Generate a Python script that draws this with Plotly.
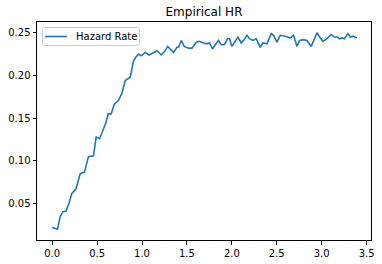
import plotly.graph_objects as go

# Time values
time = [0.0, 0.033, 0.059, 0.089, 0.119, 0.153, 0.189, 0.219, 0.264, 0.312,
        0.360, 0.404, 0.460, 0.490, 0.527, 0.562, 0.596, 0.624, 0.657, 0.690,
        0.738, 0.776, 0.813, 0.869, 0.905, 0.935, 0.961, 0.991, 1.036, 1.080,
        1.128, 1.166, 1.214, 1.251, 1.286, 1.314, 1.351, 1.389, 1.406, 1.437,
        1.470, 1.518, 1.556, 1.604, 1.640, 1.685, 1.723, 1.752, 1.785, 1.815,
        1.852, 1.882, 1.915, 1.952, 1.974, 2.001, 2.038, 2.068, 2.105, 2.138,
        2.168, 2.197, 2.235, 2.272, 2.316, 2.346, 2.391, 2.439, 2.464, 2.502,
        2.539, 2.595, 2.650, 2.687, 2.725, 2.754, 2.798, 2.836, 2.884, 2.910,
        2.948, 2.977, 3.014, 3.059, 3.104, 3.140, 3.177, 3.199, 3.226, 3.252,
        3.293, 3.318, 3.349, 3.393]

# Hazard rate values
hazard_rate = [0.022, 0.0205, 0.020, 0.035, 0.0405, 0.041, 0.051, 0.062, 0.067, 0.085,
               0.087, 0.105, 0.106, 0.128, 0.126, 0.135, 0.144, 0.155, 0.155, 0.166,
               0.171, 0.179, 0.194, 0.198, 0.217, 0.222, 0.225, 0.223, 0.227, 0.224,
               0.227, 0.229, 0.224, 0.228, 0.234, 0.231, 0.227, 0.233, 0.233, 0.241,
               0.234, 0.232, 0.232, 0.239, 0.240, 0.238, 0.237, 0.238, 0.231, 0.236,
               0.241, 0.236, 0.236, 0.243, 0.243, 0.234, 0.240, 0.245, 0.238, 0.242,
               0.247, 0.243, 0.241, 0.243, 0.233, 0.238, 0.237, 0.249, 0.247, 0.239,
               0.247, 0.246, 0.244, 0.247, 0.234, 0.241, 0.242, 0.241, 0.234, 0.240,
               0.250, 0.245, 0.240, 0.243, 0.248, 0.245, 0.245, 0.243, 0.244, 0.243,
               0.249, 0.245, 0.246, 0.244]

x_ticks = [0.0, 0.5, 1.0, 1.5, 2.0, 2.5, 3.0, 3.5]
y_ticks = [0.05, 0.10, 0.15, 0.20, 0.25]

series_name = "Hazard Rate"
line_color = "#1f77b4"
font = "DejaVu Sans, Liberation Sans, sans-serif"

fig = go.Figure()
fig.add_trace(go.Scatter(x=time, y=hazard_rate, mode="lines", name=series_name,
                         line=dict(color=line_color, width=1.6), showlegend=False))

axis_common = dict(showline=True, mirror=True, linecolor="black", linewidth=1,
                   ticks="outside", ticklen=3.5, tickwidth=1, tickcolor="black",
                   showgrid=False, zeroline=False, automargin=False,
                   tickfont=dict(family=font, size=10, color="black"))

W, H = 382, 264
ml, mr, mt, mb = 37, 11, 22, 24
pw, ph = W - ml - mr, H - mt - mb


def px_x(p):
    return (p - ml) / pw


def px_y(p):
    return (H - mb - p) / ph


# Matplotlib-style legend box (upper left, rounded frame)
x0, x1, y0, y1, r = 42.5, 139.5, 27.5, 45.5, 2.5
path = (f"M {px_x(x0 + r)} {px_y(y0)} L {px_x(x1 - r)} {px_y(y0)} "
        f"Q {px_x(x1)} {px_y(y0)} {px_x(x1)} {px_y(y0 + r)} "
        f"L {px_x(x1)} {px_y(y1 - r)} Q {px_x(x1)} {px_y(y1)} {px_x(x1 - r)} {px_y(y1)} "
        f"L {px_x(x0 + r)} {px_y(y1)} Q {px_x(x0)} {px_y(y1)} {px_x(x0)} {px_y(y1 - r)} "
        f"L {px_x(x0)} {px_y(y0 + r)} Q {px_x(x0)} {px_y(y0)} {px_x(x0 + r)} {px_y(y0)} Z")

fig.add_shape(type="path", path=path, xref="paper", yref="paper",
              line=dict(color="#cccccc", width=1), fillcolor="rgba(255,255,255,0.8)")
fig.add_shape(type="line", xref="paper", yref="paper",
              x0=px_x(45), x1=px_x(67), y0=px_y(36.5), y1=px_y(36.5),
              line=dict(color=line_color, width=1.6))
fig.add_annotation(text=series_name, xref="paper", yref="paper",
                   x=px_x(74), y=px_y(36.5), xanchor="left", yanchor="middle",
                   showarrow=False, font=dict(family=font, size=10, color="black"))

fig.update_layout(
    width=W, height=H,
    margin=dict(l=ml, r=mr, t=mt, b=mb, autoexpand=False),
    paper_bgcolor="white", plot_bgcolor="white",
    title=dict(text="Empirical HR", x=0.5, xref="paper", xanchor="center",
               y=1 - 11.5 / H, yanchor="middle",
               font=dict(family=font, size=12, color="black")),
    xaxis=dict(range=[-0.169, 3.549], tickvals=x_ticks,
               ticktext=[f"{v:.1f}" for v in x_ticks], **axis_common),
    yaxis=dict(range=[0.0074, 0.2626], tickvals=y_ticks,
               ticktext=[f"{v:.2f}" for v in y_ticks], **axis_common),
    showlegend=False,
)

fig.write_html("out.html", config={"displayModeBar": False},
               post_script="document.body.style.margin='0';")
